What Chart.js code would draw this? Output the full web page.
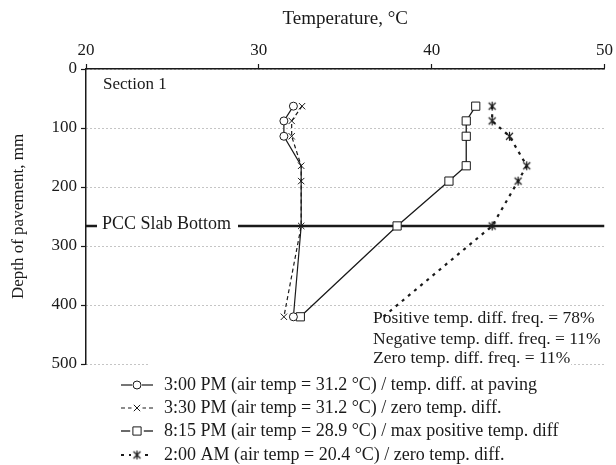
<!DOCTYPE html>
<html lang="en">
<head>
<meta charset="UTF-8">
<title>Temperature profile - Section 1</title>
<style>
  body { margin: 0; background: #fff; }
  #wrap { width: 616px; height: 465px; }
</style>
</head>
<body>
<div id="wrap"><canvas id="profile" width="616" height="465"></canvas></div>
<script src="https://cdn.jsdelivr.net/npm/chart.js"></script>
<script>
  // depths (mm) shared by all four profiles
  const depths = [63, 88, 114, 164, 190, 266, 420];
  const temp300pm = [32.0, 31.45, 31.45, 32.45, 32.45, 32.45, 32.0];
  const temp330pm = [32.5, 31.9, 31.9, 32.45, 32.45, 32.45, 31.45];
  const temp815pm = [42.55, 42.0, 42.0, 42.0, 41.0, 38.0, 32.4];
  const temp200am = [43.5, 43.5, 44.5, 45.5, 45.0, 43.5, 37.2];
  const slabDepth = 266;
  const seriesLabels = [
    '3:00 PM (air temp = 31.2 \u00b0C) / temp. diff. at paving',
    '3:30 PM (air temp = 31.2 \u00b0C) / zero temp. diff.',
    '8:15 PM (air temp = 28.9 \u00b0C) / max positive temp. diff',
    '2:00 AM (air temp = 20.4 \u00b0C) / zero temp. diff.'
  ];
  const freqNotes = [
    'Positive temp. diff. freq. = 78%',
    'Negative temp. diff. freq. = 11%',
    'Zero temp. diff. freq. = 11%'
  ];

  const FONT = "'Liberation Serif', 'Times New Roman', serif";
  const INK = '#1a1a1a';

  const toPoints = (temps) => temps.map((t, i) => ({ x: t, y: depths[i] }));

  // asterisk-like marker used for the 2:00 AM profile
  function starMark() {
    const c = document.createElement('canvas');
    c.width = 11; c.height = 11;
    const g = c.getContext('2d');
    g.strokeStyle = INK;
    g.lineWidth = 1.2;
    g.beginPath();
    g.moveTo(2, 2); g.lineTo(9, 9);
    g.moveTo(9, 2); g.lineTo(2, 9);
    g.moveTo(5.5, 1); g.lineTo(5.5, 10);
    g.stroke();
    return c;
  }
  const starImg = starMark();

  const datasets = [
    {
      label: seriesLabels[0],
      data: toPoints(temp300pm),
      borderColor: INK, borderWidth: 1.2,
      pointStyle: 'circle', pointRadius: [4, 4, 4, 0, 0, 0, 4],
      pointBackgroundColor: '#fff', pointBorderColor: INK, pointBorderWidth: 1
    },
    {
      label: seriesLabels[1],
      data: toPoints(temp330pm),
      borderColor: INK, borderWidth: 1.2, borderDash: [4, 3],
      pointStyle: 'crossRot', pointRadius: 4.5,
      pointBorderColor: INK, pointBorderWidth: 1
    },
    {
      label: seriesLabels[2],
      data: toPoints(temp815pm),
      borderColor: INK, borderWidth: 1.3,
      pointStyle: 'rect', pointRadius: 5.8,
      pointBackgroundColor: '#fff', pointBorderColor: INK, pointBorderWidth: 1
    },
    {
      label: seriesLabels[3],
      data: toPoints(temp200am),
      borderColor: INK, borderWidth: 2.2, borderDash: [3, 5],
      pointStyle: starImg, pointRadius: [5, 5, 5, 5, 5, 5, 0],
      pointBorderColor: INK, pointBorderWidth: 1
    },
    {
      label: 'slab',
      data: [{ x: 20, y: slabDepth }, { x: 50, y: slabDepth }],
      borderColor: INK, borderWidth: 2.6, pointRadius: 0
    }
  ];

  // text, the legend and the slab label are drawn on the canvas
  const decorations = {
    id: 'decorations',
    afterDatasetsDraw(chart) {
      const ctx = chart.ctx;
      const ys = chart.scales.y;
      ctx.save();
      ctx.textBaseline = 'middle';
      ctx.fillStyle = INK;

      ctx.font = '17px ' + FONT;
      ctx.fillText('Section 1', 103, 85);

      ctx.font = '18px ' + FONT;
      // slab label sits on the line with a white back
      const sy = ys.getPixelForValue(slabDepth);
      ctx.fillStyle = '#fff';
      ctx.fillRect(97, sy - 4, 141, 8);
      ctx.fillStyle = INK;
      ctx.fillText('PCC Slab Bottom', 102, sy - 2);

      // frequency notes
      ctx.font = '17.5px ' + FONT;
      const noteY = [318, 339, 358];
      ctx.fillStyle = '#fff';
      ctx.fillRect(150, ys.getPixelForValue(500) - 3, 421, 6);
      ctx.fillStyle = INK;
      freqNotes.forEach((t, i) => ctx.fillText(t, 373, noteY[i]));

      // legend
      ctx.font = '18px ' + FONT;
      const rowY = [385, 408, 431, 455];
      const mx = 137;
      chart.data.datasets.slice(0, 4).forEach((ds, i) => {
        const y = rowY[i];
        ctx.save();
        ctx.strokeStyle = ds.borderColor;
        ctx.lineWidth = ds.borderWidth;
        ctx.setLineDash(ds.borderDash || []);
        ctx.beginPath();
        ctx.moveTo(mx - 16, y);
        ctx.lineTo(mx + 16, y);
        ctx.stroke();
        ctx.restore();
        const r = Array.isArray(ds.pointRadius) ? ds.pointRadius[0] : ds.pointRadius;
        ctx.fillStyle = '#fff';
        ctx.fillRect(mx - r - 1, y - r - 1, 2 * r + 2, 2 * r + 2);
        ctx.save();
        ctx.fillStyle = ds.pointBackgroundColor || '#fff';
        ctx.strokeStyle = ds.pointBorderColor;
        ctx.lineWidth = ds.pointBorderWidth;
        Chart.helpers.drawPoint(ctx, { pointStyle: ds.pointStyle, radius: r, borderWidth: 1, rotation: 0 }, mx, y);
        ctx.restore();
        ctx.fillStyle = INK;
        ctx.fillText(ds.label, 164, y);
      });
      ctx.restore();
    }
  };

  new Chart(document.getElementById('profile'), {
    type: 'scatter',
    data: { datasets },
    plugins: [decorations],
    options: {
      responsive: false,
      animation: false,
      showLine: true,
      layout: { padding: { top: 0, left: 0, right: 11, bottom: 101 } },
      plugins: { legend: { display: false }, tooltip: { enabled: false } },
      scales: {
        x: {
          type: 'linear', position: 'top',
          min: 20, max: 50,
          afterFit: (s) => { s.height = 69; },
          ticks: { stepSize: 10, color: INK, padding: 3, font: { family: FONT, size: 17 } },
          grid: { drawOnChartArea: false, drawTicks: true, tickLength: 5, tickColor: INK, tickWidth: 1.2 },
          border: { color: INK, width: 1.5 },
          title: { display: true, text: 'Temperature, \u00b0C', color: INK, padding: { top: 8, bottom: 0 }, font: { family: FONT, size: 19 } }
        },
        y: {
          type: 'linear', reverse: true,
          min: 0, max: 500,
          afterFit: (s) => { s.width = 86; },
          ticks: { stepSize: 100, color: INK, padding: 4, font: { family: FONT, size: 17 } },
          grid: { color: '#8a8a8a', lineWidth: 1, tickLength: 5, tickColor: INK, tickWidth: 1.2 },
          border: { color: INK, width: 1.5, dash: [1, 3] },
          title: { display: true, text: 'Depth of pavement, mm', color: INK, padding: { top: 8, bottom: 0 }, font: { family: FONT, size: 17 } }
        }
      }
    }
  });
</script>
</body>
</html>
